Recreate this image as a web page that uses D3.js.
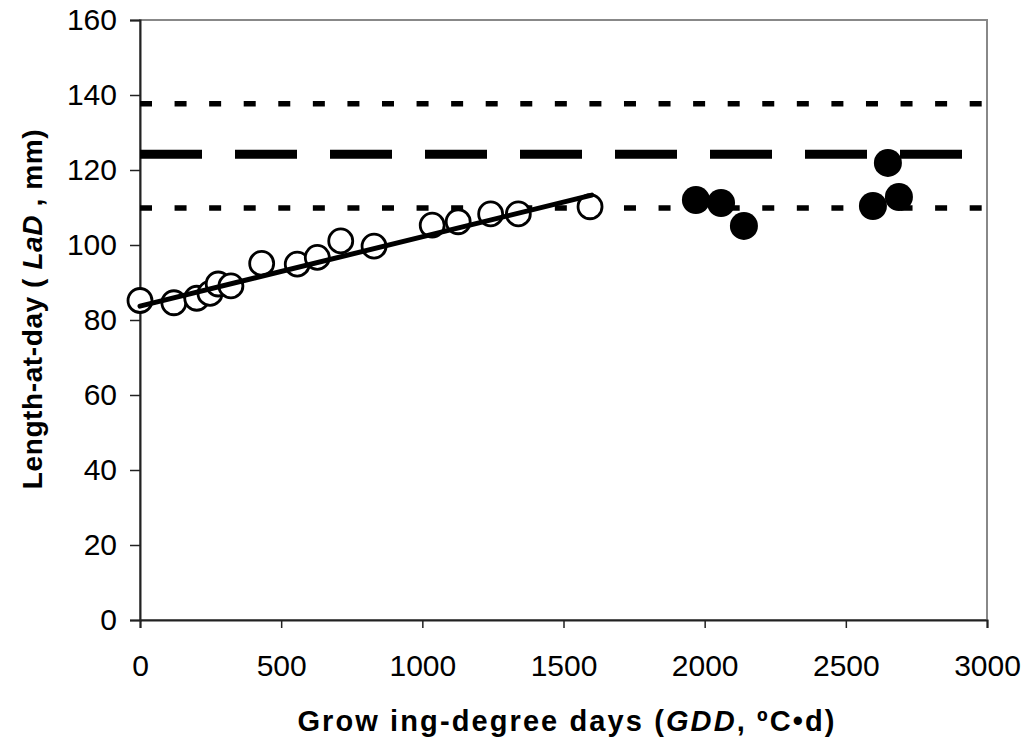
<!DOCTYPE html>
<html>
<head>
<meta charset="utf-8">
<script src="https://cdn.jsdelivr.net/npm/d3@7"></script>
<style>
  body { margin: 0; background: #fff; }
  text { font-family: "Liberation Sans", Arial, sans-serif; fill: #000; }
</style>
</head>
<body>
<script>
// open circles: growing-degree days vs length-at-day
var openGdd = [0, 120, 201, 248, 277, 322, 431, 557, 628, 711, 829, 1035, 1127, 1242, 1340, 1594];
var openLad = [85.2, 84.6, 85.8, 87.1, 89.6, 89.1, 95.1, 94.9, 96.7, 101.1, 99.7, 105.3, 106.2, 108.3, 108.3, 110.2];

// filled circles
var filledGdd = [1969, 2058, 2139, 2596, 2649, 2688];
var filledLad = [112.0, 111.2, 105.1, 110.4, 121.9, 112.8];

// fitted line over the open circles
var fitRange = [0, 1600];
var fitIntercept = 83.7;
var fitSlope = 0.0185;

// horizontal reference lines
var refValues = [137.7, 124.2, 109.9];
var refEnds = [3000, 2930, 3000];
var refKinds = ['dotted', 'dashed', 'dotted'];

var xTicks = [0, 500, 1000, 1500, 2000, 2500, 3000];
var yTicks = [0, 20, 40, 60, 80, 100, 120, 140, 160];

var width = 1026, height = 748;
var margin = {top: 20, right: 39, bottom: 128, left: 140};
var w = width - margin.left - margin.right;
var h = height - margin.top - margin.bottom;

var svg = d3.select('body').append('svg')
    .attr('width', width)
    .attr('height', height);

var g = svg.append('g').attr('transform', 'translate(' + margin.left + ',' + margin.top + ')');

var x = d3.scaleLinear().domain([0, 3000]).range([0, w]);
var y = d3.scaleLinear().domain([0, 160]).range([h, 0]);

// plot area frame (gray top/right)
g.append('rect')
    .attr('x', 0).attr('y', 0)
    .attr('width', w).attr('height', h)
    .attr('fill', 'none')
    .attr('stroke', '#888')
    .attr('stroke-width', 2);

// axes
var yAxis = g.append('g').call(d3.axisLeft(y).tickValues(yTicks).tickSize(10).tickPadding(13));
var xAxis = g.append('g').attr('transform', 'translate(0,' + h + ')')
    .call(d3.axisBottom(x).tickValues(xTicks).tickFormat(d3.format('d')).tickSize(8).tickPadding(27));

[yAxis, xAxis].forEach(function (a) {
    a.select('.domain').attr('stroke', '#222').attr('stroke-width', 2);
    a.selectAll('.tick line').attr('stroke', '#222').attr('stroke-width', 1.5);
    a.selectAll('.tick text')
        .attr('font-family', '"Liberation Sans", Arial, sans-serif')
        .attr('font-size', 30)
        .attr('fill', '#000');
});

// reference lines
refValues.forEach(function (v, i) {
    var dotted = refKinds[i] === 'dotted';
    g.append('line')
        .attr('x1', x(0)).attr('x2', x(refEnds[i]))
        .attr('y1', y(v)).attr('y2', y(v))
        .attr('stroke', '#000')
        .attr('stroke-width', dotted ? 5.5 : 9)
        .attr('stroke-dasharray', dotted ? '12,22.57' : '62,33');
});

// open circles
g.selectAll('circle.open')
    .data(d3.zip(openGdd, openLad))
    .enter().append('circle')
    .attr('class', 'open')
    .attr('cx', function (d) { return x(d[0]); })
    .attr('cy', function (d) { return y(d[1]); })
    .attr('r', 12)
    .attr('fill', '#fff')
    .attr('stroke', '#000')
    .attr('stroke-width', 2.8);

// filled circles
g.selectAll('circle.filled')
    .data(d3.zip(filledGdd, filledLad))
    .enter().append('circle')
    .attr('class', 'filled')
    .attr('cx', function (d) { return x(d[0]); })
    .attr('cy', function (d) { return y(d[1]); })
    .attr('r', 14)
    .attr('fill', '#000');

// fitted line
var line = d3.line()
    .x(function (d) { return x(d); })
    .y(function (d) { return y(fitIntercept + fitSlope * d); });

g.append('path')
    .datum(fitRange)
    .attr('d', line)
    .attr('fill', 'none')
    .attr('stroke', '#000')
    .attr('stroke-width', 5)
    .attr('stroke-linecap', 'round');

// axis titles
var xt = svg.append('text')
    .attr('x', 567)
    .attr('y', 731)
    .attr('text-anchor', 'middle')
    .attr('font-size', 29)
    .attr('letter-spacing', 2.1)
    .attr('font-weight', 'bold');
xt.append('tspan').text('Grow ing-degree days (');
xt.append('tspan').attr('font-style', 'italic').text('GDD');
xt.append('tspan').text(',  ºC•d)');

var yt = svg.append('text')
    .attr('transform', 'translate(42,309) rotate(-90)')
    .attr('text-anchor', 'middle')
    .attr('font-size', 28)
    .attr('letter-spacing', 0.6)
    .attr('font-weight', 'bold');
yt.append('tspan').text('Length-at-day ( ');
yt.append('tspan').attr('font-style', 'italic').text('LaD');
yt.append('tspan').text(' , mm)');
</script>
</body>
</html>
